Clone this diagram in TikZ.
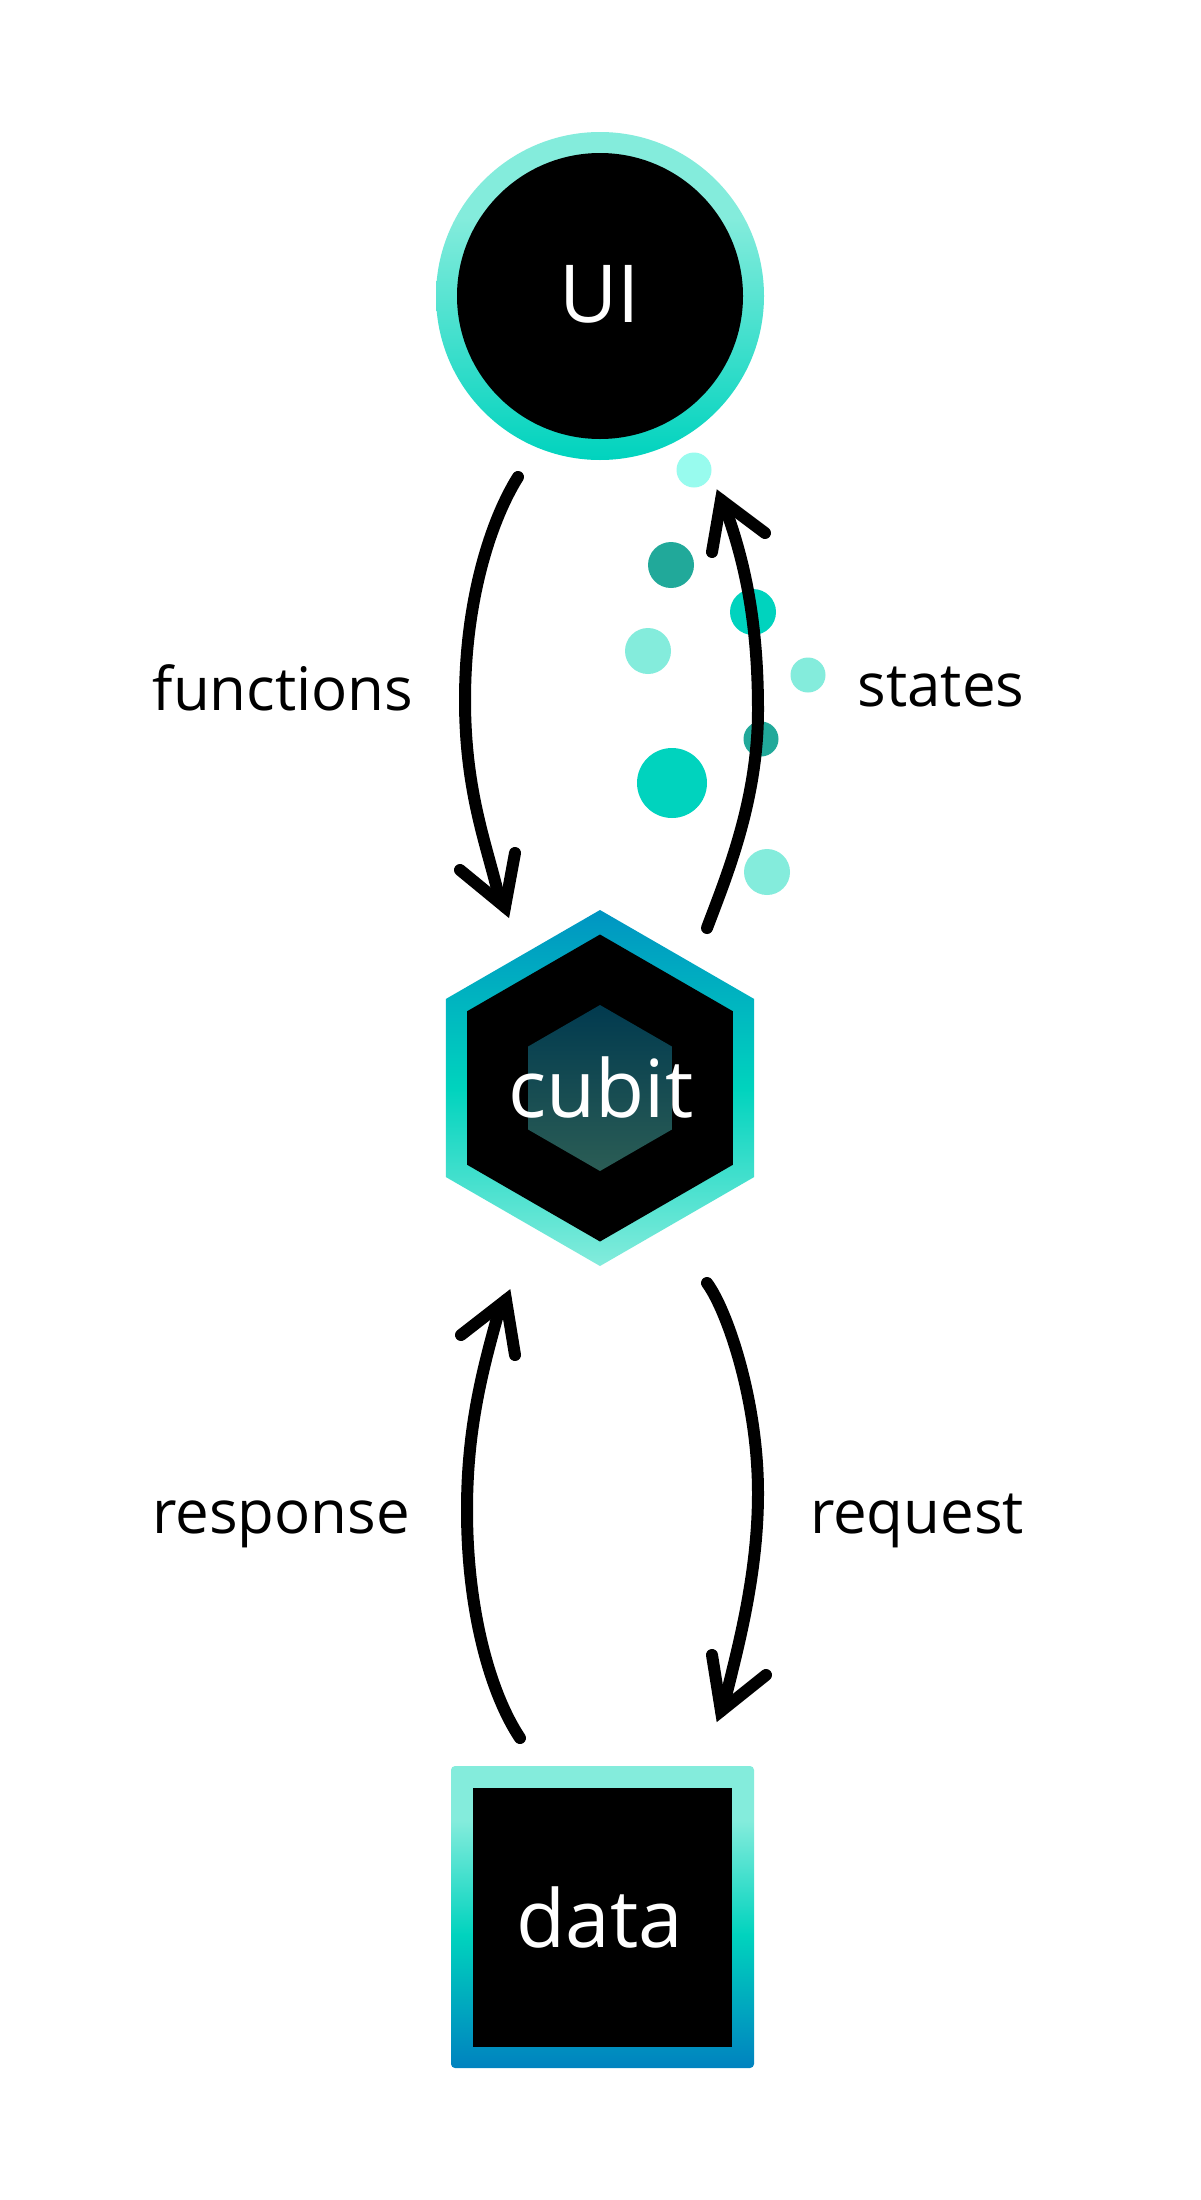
\documentclass[tikz,border=0pt]{standalone}
\usepackage{fontspec}
\setmainfont{Open Sans}
\definecolor{mint}{HTML}{84ECDC}
\definecolor{mintpale}{HTML}{98FBEE}
\definecolor{aqua}{HTML}{00D3BE}
\definecolor{deepteal}{HTML}{21A99A}
\definecolor{ocean}{HTML}{0095C2}
\definecolor{oceandeep}{HTML}{0082BF}
\definecolor{hexdark}{HTML}{013A4F}
\definecolor{hexmid}{HTML}{01504A}
\definecolor{hexlow}{HTML}{2B5D55}
\pgfdeclareverticalshading{datashade}{100bp}{color(0bp)=(oceandeep); color(25bp)=(oceandeep); color(47bp)=(aqua); color(66bp)=(mint); color(75bp)=(mint); color(100bp)=(mint)}
\pgfdeclareverticalshading{hexshade}{100bp}{color(0bp)=(mint); color(25bp)=(mint); color(50bp)=(aqua); color(75bp)=(ocean); color(100bp)=(ocean)}
\pgfdeclareverticalshading{uishade}{100bp}{color(0bp)=(aqua); color(25bp)=(aqua); color(62bp)=(mint); color(75bp)=(mint); color(100bp)=(mint)}
\begin{document}
\begin{tikzpicture}[x=0.5pt,y=-0.5pt,
  flow/.style={line width=6pt, line cap=round, line join=round},
  head/.style={line width=6pt, line cap=round, line join=miter, miter limit=10},
  lbl/.style={font=\fontsize{30}{36}\selectfont, anchor=base, inner sep=0pt},
  title/.style={font=\fontsize{40}{48}\selectfont, text=white, anchor=base, inner sep=0pt},
  bubble/.style={fill=#1}]
\fill[white] (0,0) rectangle (1200,2200);
\useasboundingbox (0,0) rectangle (1200,2200);

% UI circle
\shade[shading=uishade] (600,296) circle[radius=164];
\fill[black] (600,296) circle[radius=143];
\node[title] (ui) at (600,322) {UI};

% cubit hexagon
\shade[shading=hexshade]
  (600,910) -- (754.2,999) -- (754.2,1177) -- (600,1266) -- (445.8,1177) -- (445.8,999) -- cycle;
\fill[black]
  (600,934.5) -- (732.9,1011.25) -- (732.9,1164.75) -- (600,1241.5) -- (467.1,1164.75) -- (467.1,1011.25) -- cycle;
\shade[top color=hexdark, middle color=hexmid, bottom color=hexlow]
  (600,1005) -- (671.9,1046.5) -- (671.9,1129.5) -- (600,1171) -- (528.1,1129.5) -- (528.1,1046.5) -- cycle;
\node[title] (cubit) at (601,1117) {cubit};

% data square
\shade[shading=datashade, rounded corners=2pt] (451,1766) rectangle (754,2068);
\fill[black] (473,1788) rectangle (732,2047);
\node[title] (data) at (600,1947) {data};

% state bubbles
\fill[bubble=mintpale] (694,470) circle[radius=17.5];
\fill[bubble=deepteal] (671,565) circle[radius=23];
\fill[bubble=aqua] (753,612) circle[radius=23];
\fill[bubble=mint] (648,651) circle[radius=23];
\fill[bubble=mint] (808,675) circle[radius=17.5];
\fill[bubble=deepteal] (761,739) circle[radius=17.5];
\fill[bubble=aqua] (672,783) circle[radius=35];
\fill[bubble=mint] (767,872) circle[radius=23];

% functions arrow (UI -> cubit)
\coordinate (fS) at (518,477);
\coordinate (fM) at (465,700);
\coordinate (fN) at (498,893);
\coordinate (fT) at (505,907);
\coordinate (fA) at (460,870);
\coordinate (fB) at (515,853);
\draw[flow] (fS) .. controls (491,520) and (465,600) .. (fM)
  .. controls (465,790) and (486,843) .. (fN) -- (fT);
\draw[head] (fA) -- (fT) -- (fB);
\node[lbl] (lfun) at (283,710) {functions};

% states arrow (cubit -> UI)
\coordinate (sS) at (707,928);
\coordinate (sM) at (758,710);
\coordinate (sN) at (726,510);
\coordinate (sT) at (721,500);
\coordinate (sA) at (765,533);
\coordinate (sB) at (712,552);
\draw[flow] (sS) .. controls (727,875) and (758,800) .. (sM)
  .. controls (758,620) and (744,560) .. (sN) -- (sT);
\draw[head] (sA) -- (sT) -- (sB);
\node[lbl] (lsta) at (941,706) {states};

% response arrow (data -> cubit)
\coordinate (rS) at (520,1738);
\coordinate (rM) at (467,1510);
\coordinate (rN) at (497,1318);
\coordinate (rT) at (506,1300);
\coordinate (rA) at (461,1335);
\coordinate (rB) at (515,1355);
\draw[flow] (rS) .. controls (490,1693) and (467,1610) .. (rM)
  .. controls (467,1430) and (482,1372) .. (rN) -- (rT);
\draw[head] (rA) -- (rT) -- (rB);
\node[lbl] (lres) at (281,1533) {response};

% request arrow (cubit -> data)
\coordinate (qS) at (707,1283);
\coordinate (qM) at (758,1493);
\coordinate (qN) at (727,1692);
\coordinate (qT) at (721,1711);
\coordinate (qA) at (712,1655);
\coordinate (qB) at (766,1675);
\draw[flow] (qS) .. controls (727,1310) and (758,1400) .. (qM)
  .. controls (758,1570) and (740,1640) .. (qN) -- (qT);
\draw[head] (qA) -- (qT) -- (qB);
\node[lbl] (lreq) at (917,1533) {request};
\end{tikzpicture}
\end{document}
